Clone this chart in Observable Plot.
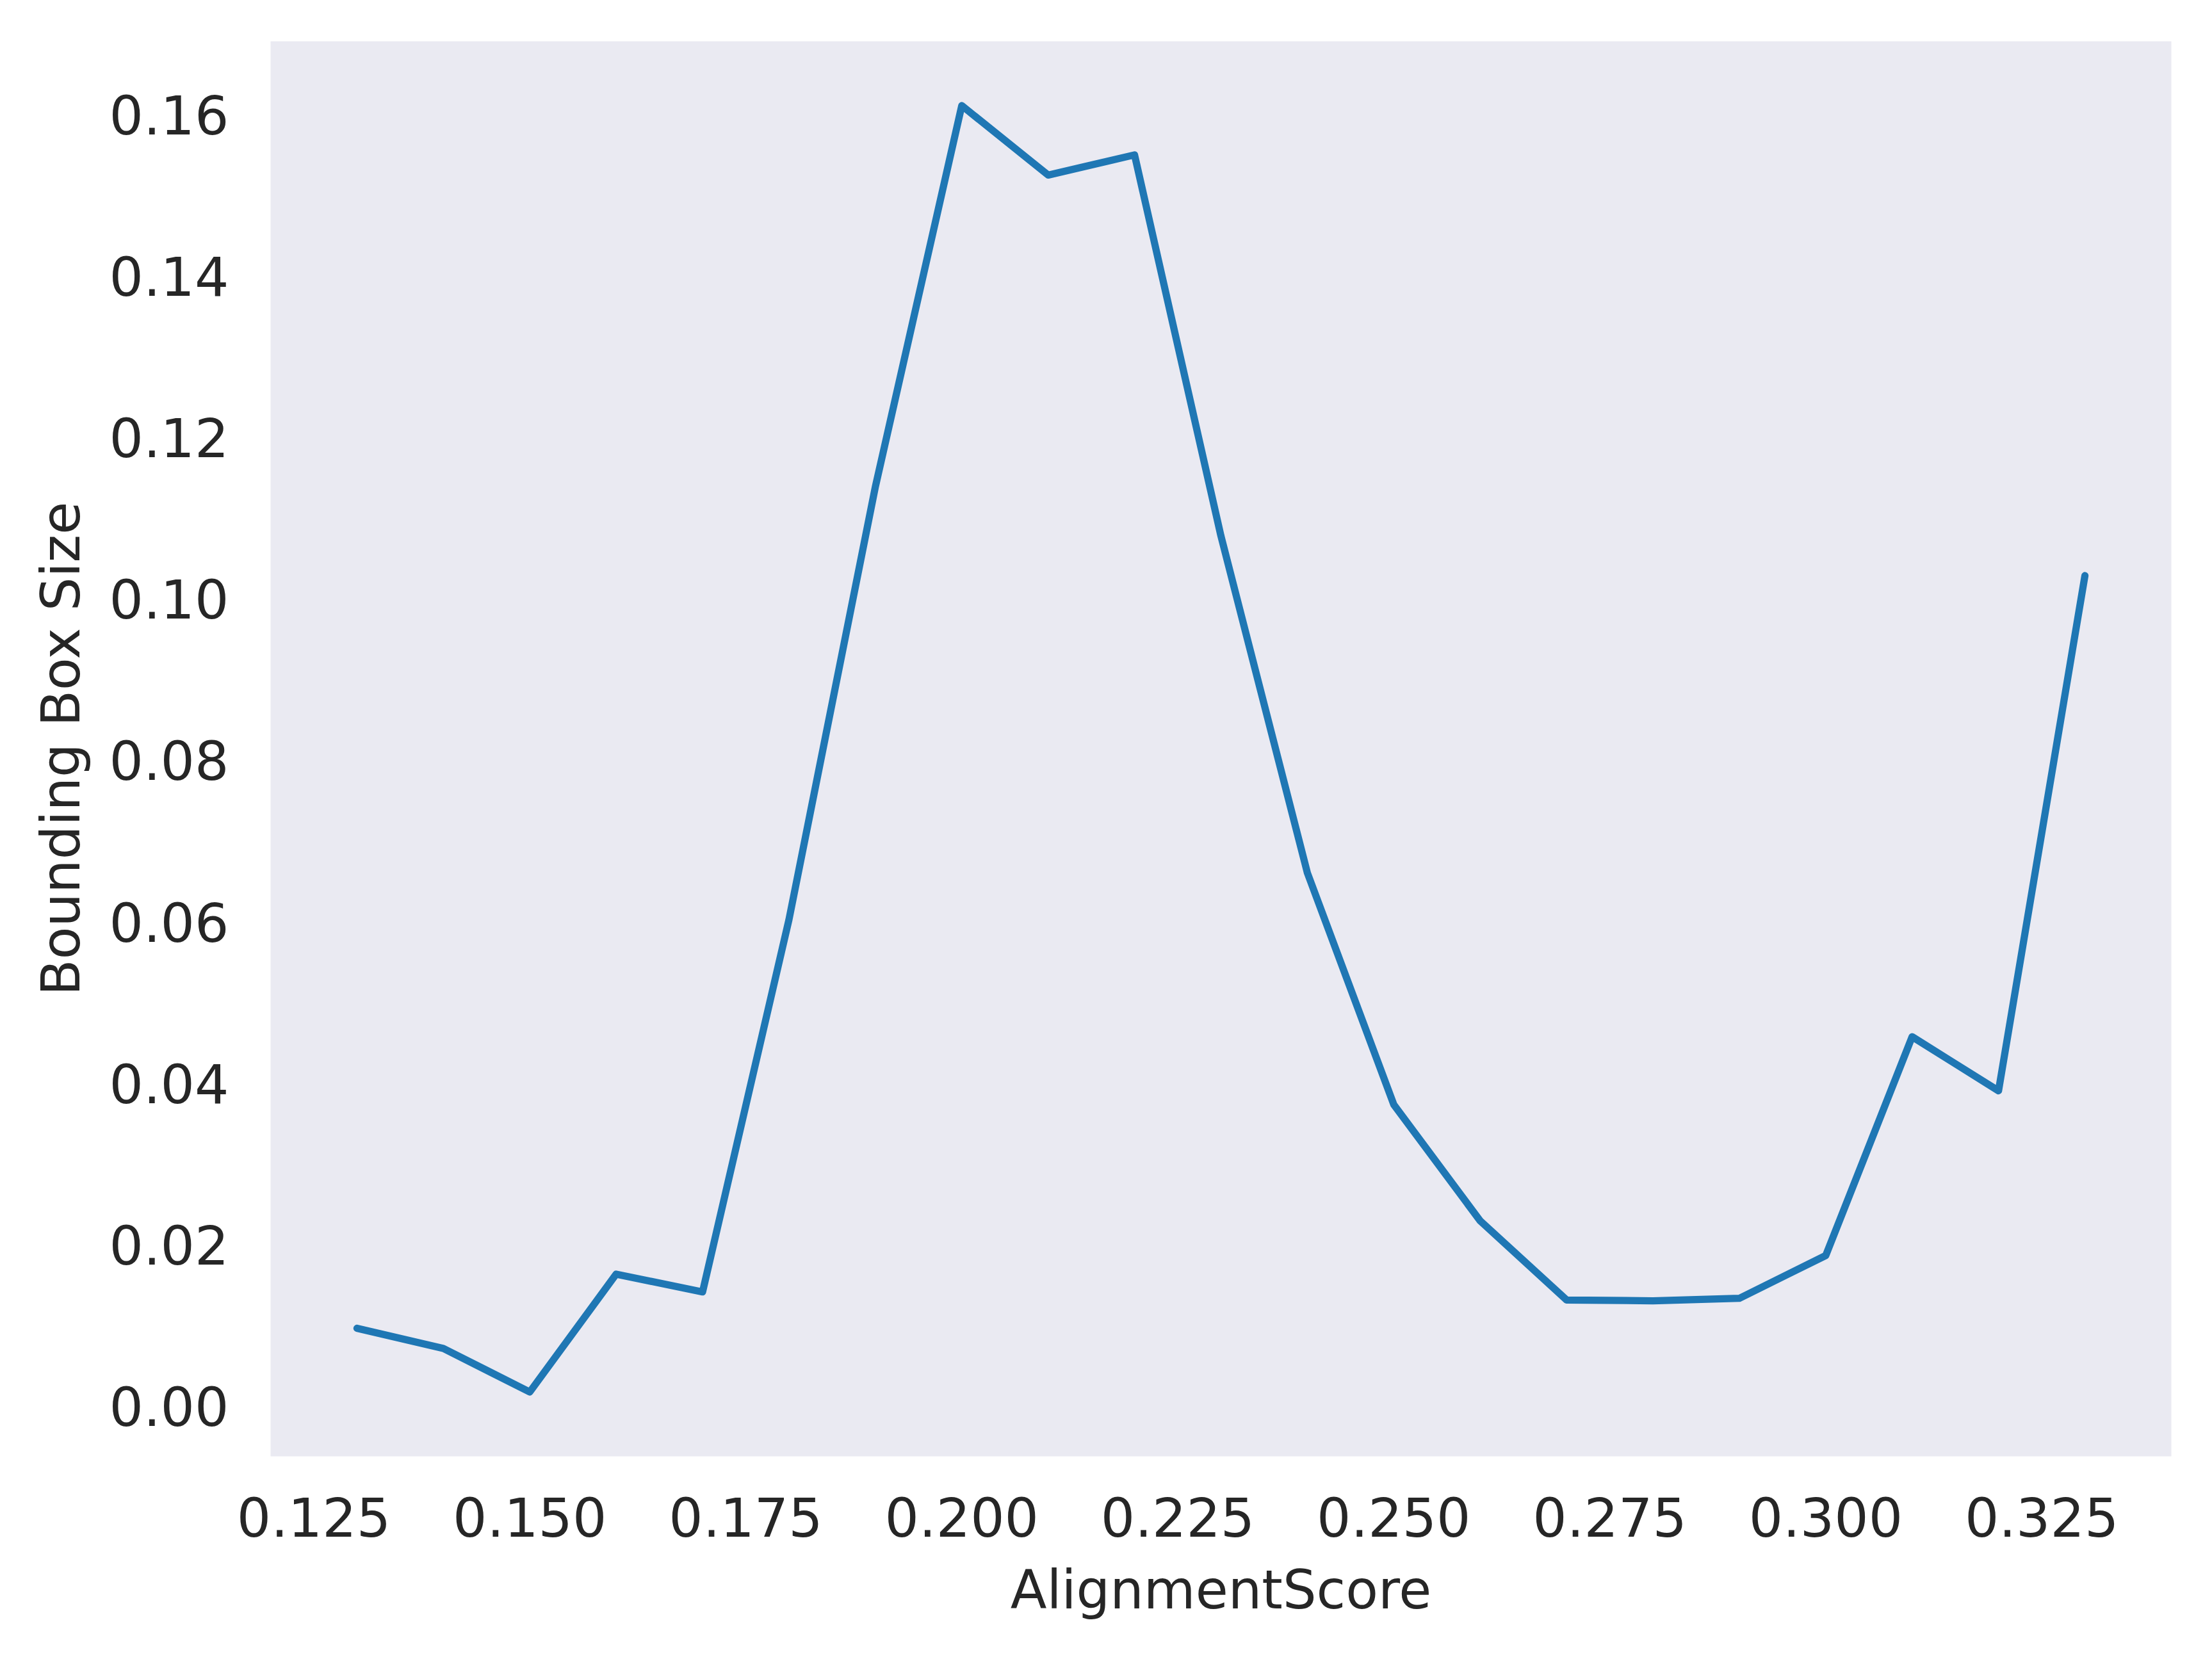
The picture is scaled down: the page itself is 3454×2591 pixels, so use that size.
<!DOCTYPE html>
<html>
<head>
<meta charset="utf-8">
<script src="https://cdn.jsdelivr.net/npm/d3@7"></script>
<script src="https://cdn.jsdelivr.net/npm/@observablehq/plot@0.6"></script>
<style>
  html, body { margin: 0; padding: 0; background: #ffffff; }
  #chart svg { display: block; }
</style>
</head>
<body>
<div id="chart"></div>
<script>
const alignmentScores = [0.13, 0.14, 0.15, 0.16, 0.17, 0.18, 0.19, 0.20, 0.21, 0.22, 0.23,
                         0.24, 0.25, 0.26, 0.27, 0.28, 0.29, 0.30, 0.31, 0.32, 0.33];
const boundingBoxSizes = [0.0100, 0.0075, 0.0021, 0.0167, 0.0145, 0.0606, 0.1142, 0.1614, 0.1528, 0.1553, 0.1081,
                          0.0664, 0.0377, 0.0233, 0.0135, 0.0134, 0.0137, 0.0190, 0.0461, 0.0394, 0.1032];
const xTicks = [0.125, 0.150, 0.175, 0.200, 0.225, 0.250, 0.275, 0.300, 0.325];
const yTicks = [0.00, 0.02, 0.04, 0.06, 0.08, 0.10, 0.12, 0.14, 0.16];
const xLabel = "AlignmentScore";
const yLabel = "Bounding Box Size";

const data = alignmentScores.map((x, i) => ({x, y: boundingBoxSizes[i]}));

const xMin = d3.min(alignmentScores), xMax = d3.max(alignmentScores);
const yMin = d3.min(boundingBoxSizes), yMax = d3.max(boundingBoxSizes);
const xPad = (xMax - xMin) * 0.05, yPad = (yMax - yMin) * 0.05;

const textColor = "#262626";

const chart = Plot.plot({
  width: 3454,
  height: 2591,
  marginLeft: 422,
  marginRight: 64,
  marginTop: 64,
  marginBottom: 317,
  style: {fontFamily: "'DejaVu Sans', sans-serif", fontSize: "84px", color: textColor, background: "#ffffff"},
  x: {domain: [xMin - xPad, xMax + xPad]},
  y: {domain: [yMin - yPad, yMax + yPad]},
  marks: [
    Plot.frame({fill: "#EAEAF2", stroke: "none"}),
    Plot.axisX({ticks: xTicks, tickSize: 0, tickPadding: 66, tickFormat: d3.format(".3f"), label: null, fontSize: 84, fill: textColor}),
    Plot.axisY({ticks: yTicks, tickSize: 0, tickPadding: 65, tickFormat: d3.format(".2f"), label: null, fontSize: 84, fill: textColor}),
    Plot.line(data, {x: "x", y: "y", stroke: "#1f77b4", strokeWidth: 11.25, strokeLinejoin: "round", strokeLinecap: "round"}),
    Plot.text([xLabel], {text: d => d, frameAnchor: "bottom", dy: 211, fontSize: 83, fill: textColor, textAnchor: "middle", lineAnchor: "middle"}),
    Plot.text([yLabel], {text: d => d, frameAnchor: "left", dx: -325, rotate: -90, fontSize: 83, fill: textColor, textAnchor: "middle", lineAnchor: "middle"})
  ]
});
document.getElementById("chart").appendChild(chart);
</script>
</body>
</html>
